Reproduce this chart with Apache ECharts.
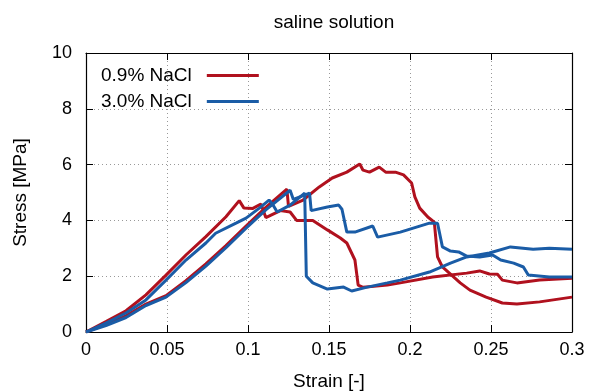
<!DOCTYPE html>
<html>
<head>
<meta charset="utf-8">
<script src="https://cdn.jsdelivr.net/npm/echarts@6/dist/echarts.min.js"></script>
<style>
  html, body { margin: 0; padding: 0; background: #fff; }
  #chart { width: 592px; height: 391px; }
</style>
</head>
<body>
<div id="chart"></div>
<script>
// 0.9% NaCl, specimen 1 (peak ~4.7, ends ~1.9)
const red1Strain = [0, 0.0123, 0.0247, 0.037, 0.0494, 0.0617, 0.074, 0.0864, 0.0946, 0.0975, 0.103, 0.108, 0.109, 0.111, 0.12, 0.126, 0.13, 0.14, 0.149, 0.157, 0.161, 0.166, 0.168, 0.171, 0.186, 0.194, 0.214, 0.235, 0.243, 0.249, 0.254, 0.257, 0.266, 0.28, 0.3];
const red1Stress = [0, 0.37, 0.76, 1.33, 2.04, 2.76, 3.42, 4.13, 4.71, 4.44, 4.43, 4.59, 4.55, 4.1, 4.35, 4.3, 4.0, 4.0, 3.66, 3.37, 3.19, 2.58, 1.68, 1.6, 1.68, 1.76, 1.97, 2.11, 2.19, 2.08, 2.07, 1.86, 1.76, 1.86, 1.93];

// 0.9% NaCl, specimen 2 (peak ~6.0, ends ~1.2)
const red2Strain = [0, 0.0123, 0.0247, 0.037, 0.0494, 0.0617, 0.074, 0.0864, 0.0988, 0.111, 0.124, 0.125, 0.126, 0.134, 0.144, 0.152, 0.161, 0.169, 0.171, 0.175, 0.181, 0.185, 0.191, 0.196, 0.201, 0.203, 0.206, 0.211, 0.215, 0.217, 0.22, 0.231, 0.237, 0.247, 0.257, 0.266, 0.28, 0.3];
const red2Stress = [0, 0.27, 0.58, 1.0, 1.3, 1.84, 2.44, 3.1, 3.8, 4.47, 5.12, 4.5, 4.55, 4.73, 5.2, 5.52, 5.73, 6.02, 5.8, 5.73, 5.91, 5.73, 5.73, 5.63, 5.34, 4.84, 4.44, 4.12, 3.94, 2.69, 2.33, 1.76, 1.5, 1.25, 1.04, 1.0, 1.08, 1.25];

// 3.0% NaCl, specimen 1 (peak ~5.0, ends ~3.0)
const blue1Strain = [0, 0.0123, 0.0247, 0.037, 0.0494, 0.0617, 0.074, 0.08, 0.0926, 0.0988, 0.107, 0.113, 0.115, 0.118, 0.126, 0.135, 0.136, 0.14, 0.149, 0.159, 0.164, 0.173, 0.186, 0.194, 0.212, 0.225, 0.235, 0.249, 0.262, 0.276, 0.286, 0.3];
const blue1Stress = [0, 0.32, 0.68, 1.15, 1.86, 2.58, 3.19, 3.54, 3.9, 4.08, 4.44, 4.73, 4.6, 4.3, 4.55, 4.98, 2.0, 1.76, 1.54, 1.61, 1.47, 1.6, 1.76, 1.86, 2.15, 2.47, 2.69, 2.83, 3.05, 2.97, 3.0, 2.97];

// 3.0% NaCl, specimen 2 (peak ~5.1, ends ~2.0)
const blue2Strain = [0, 0.0123, 0.0247, 0.037, 0.0494, 0.0617, 0.074, 0.0864, 0.0988, 0.111, 0.126, 0.128, 0.138, 0.139, 0.149, 0.156, 0.158, 0.161, 0.166, 0.177, 0.18, 0.181, 0.194, 0.212, 0.217, 0.22, 0.225, 0.23, 0.235, 0.243, 0.251, 0.256, 0.264, 0.27, 0.273, 0.286, 0.3];
const blue2Stress = [0, 0.23, 0.52, 0.95, 1.25, 1.77, 2.36, 3.02, 3.72, 4.38, 5.08, 4.75, 4.98, 4.35, 4.48, 4.55, 4.4, 3.58, 3.58, 3.8, 3.4, 3.37, 3.58, 3.9, 3.9, 3.05, 2.9, 2.87, 2.72, 2.69, 2.76, 2.58, 2.47, 2.33, 2.04, 1.97, 1.97];

const RED = '#b0111e';
const BLUE = '#1a5ca6';

const pairs = (xs, ys) => xs.map((x, i) => [x, ys[i]]);

const chart = echarts.init(document.getElementById('chart'));

const textFont = { fontFamily: 'Liberation Sans, Arial, sans-serif', fontSize: 18, color: '#000' };

const axisCommon = {
  type: 'value',
  axisLine: { show: true, onZero: false, lineStyle: { color: '#000', width: 1.2 } },
  axisTick: { show: true, inside: true, length: 7, lineStyle: { color: '#000' } },
};

const series = [
  { name: '0.9% NaCl', color: RED, data: pairs(red1Strain, red1Stress) },
  { name: '0.9% NaCl', color: RED, data: pairs(red2Strain, red2Stress) },
  { name: '3.0% NaCl', color: BLUE, data: pairs(blue1Strain, blue1Stress) },
  { name: '3.0% NaCl', color: BLUE, data: pairs(blue2Strain, blue2Stress) },
].map(s => ({
  name: s.name,
  type: 'line',
  data: s.data,
  symbol: 'none',
  itemStyle: { color: s.color },
  lineStyle: { color: s.color, width: 3 },
  z: 5,
}));

chart.setOption({
  backgroundColor: '#fff',
  animation: false,
  title: {
    text: 'saline solution',
    left: 329,
    top: 8,
    textAlign: 'center',
    textStyle: { ...textFont, fontSize: 19, fontWeight: 'normal' },
  },
  legend: {
    orient: 'vertical',
    left: 96,
    top: 61,
    align: 'right',
    icon: 'rect',
    itemWidth: 52,
    itemHeight: 3,
    itemGap: 7,
    data: ['0.9% NaCl', '3.0% NaCl'],
    textStyle: { ...textFont, fontSize: 19, padding: [0, 10, 0, 0] },
  },
  grid: { left: 86, right: 20, top: 53, bottom: 59, containLabel: false, outerBoundsMode: 'none' },
  xAxis: [
    {
      ...axisCommon,
      min: 0, max: 0.3, interval: 0.05,
      name: 'Strain [-]',
      nameLocation: 'middle',
      nameGap: 40,
      nameTextStyle: { ...textFont, fontSize: 19 },
      axisLabel: { ...textFont, margin: 9, formatter: v => String(+v.toFixed(2)) },
      splitLine: { show: true, lineStyle: { color: '#999', type: [1, 3], width: 1 } },
    },
    {
      ...axisCommon,
      position: 'top',
      min: 0, max: 0.3, interval: 0.05,
      axisLabel: { show: false },
      splitLine: { show: false },
    },
  ],
  yAxis: [
    {
      ...axisCommon,
      min: 0, max: 10, interval: 2,
      name: 'Stress [MPa]',
      nameLocation: 'middle',
      nameGap: 56,
      nameRotate: 90,
      nameTextStyle: { ...textFont, fontSize: 19 },
      axisLabel: { ...textFont, margin: 14 },
      splitLine: { show: true, lineStyle: { color: '#999', type: [1, 3], width: 1 } },
    },
    {
      ...axisCommon,
      position: 'right',
      min: 0, max: 10, interval: 2,
      axisLabel: { show: false },
      splitLine: { show: false },
    },
  ],
  series: series,
});
</script>
</body>
</html>
